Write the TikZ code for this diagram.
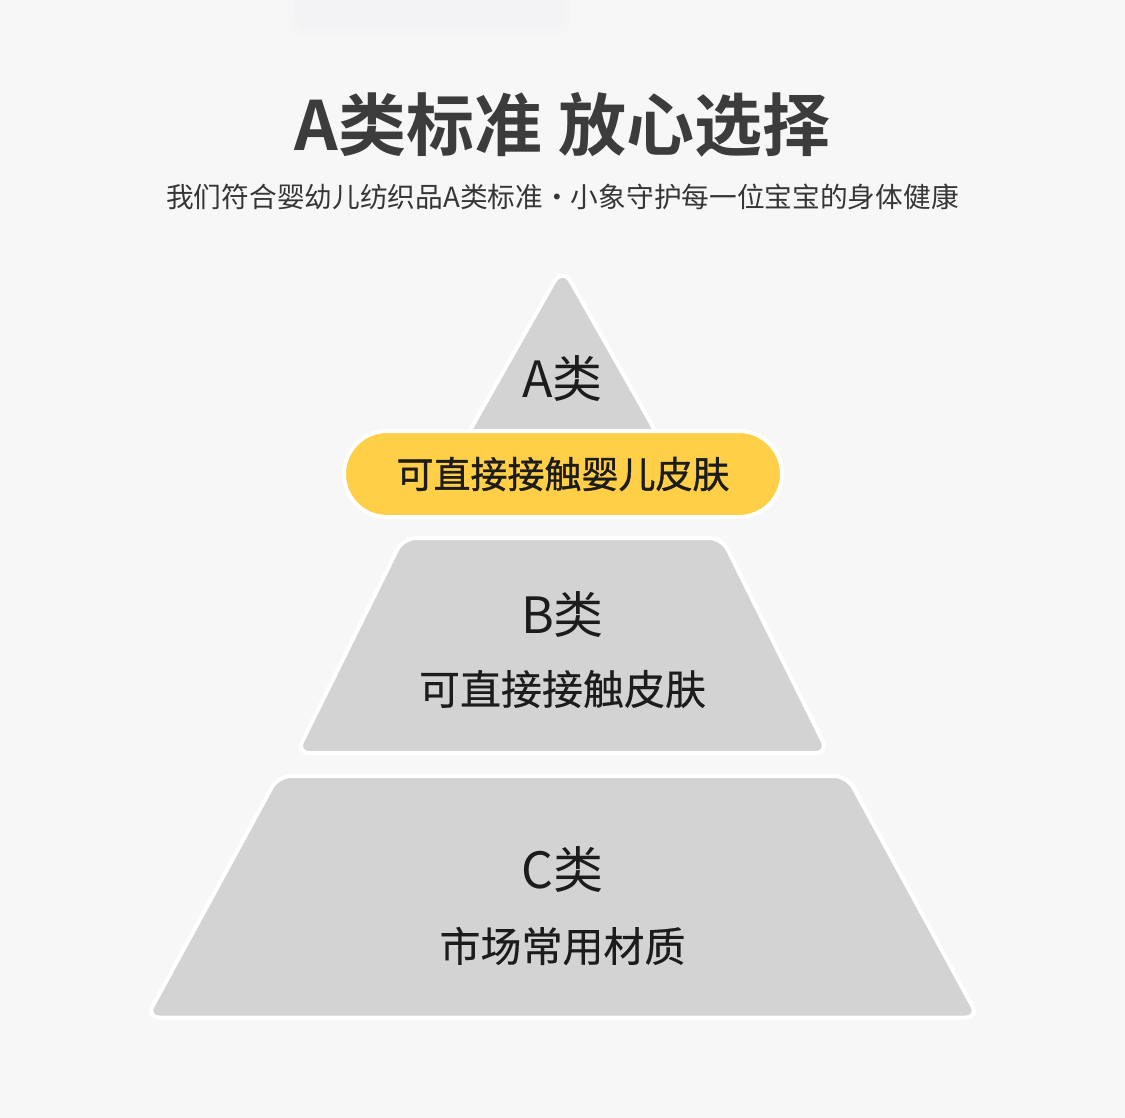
\documentclass[tikz,border=0pt]{standalone}
\usepackage{fontspec}
\setmainfont{Noto Sans CJK SC}[BoldFont={Noto Sans CJK SC Bold}]
\usepackage{xcolor}
\usetikzlibrary{shapes.misc}
\definecolor{bggray}{HTML}{F7F7F7}
\definecolor{topshade}{HTML}{F3F3F5}
\definecolor{tiergray}{HTML}{D3D3D3}
\definecolor{pillyellow}{HTML}{FFCF48}
\definecolor{titlegray}{HTML}{3C3C3C}
\definecolor{subgray}{HTML}{363636}
\definecolor{labelblack}{HTML}{1C1C1C}

\begin{document}
\begin{tikzpicture}[x=1pt,y=-1pt,
  tier/.style={fill=tiergray, draw=white, line width=4pt, rounded corners=13pt, line join=round},
  grade/.style={inner sep=0pt, text=labelblack, font=\fontsize{50}{50}\selectfont},
  usage/.style={inner sep=0pt, text=labelblack, font=\fontsize{41}{41}\selectfont\addfontfeature{FakeBold=0.4}}]
\def\W{1125}
\def\H{1118}
\def\cx{562.5}

%background
\fill[bggray] (0,0) rectangle (\W,\H);
\useasboundingbox (0,0) rectangle (\W,\H);
\fill[topshade!60!bggray, rounded corners=16pt] (288,-14) rectangle (569,36);
\fill[topshade, rounded corners=14pt] (294,-14) rectangle (563,30);

%headline
\node[inner sep=0pt, text=titlegray, font=\bfseries\fontsize{68}{68}\selectfont] (title) at (\cx,125) {A类标准 放心选择};
\node[inner sep=0pt, text=subgray, font=\fontsize{27.7}{28}\selectfont] (subtitle) at (\cx,197) {我们符合婴幼儿纺织品A类标准・小象守护每一位宝宝的身体健康};

%pyramid
%top tier
\draw[tier, rounded corners=17pt] (\cx,267) -- ({\cx+98},440) -- ({\cx-98},440) -- cycle;
%bottom tier
\draw[tier] ({\cx-284.5},776) -- ({\cx+284.5},776) -- ({\cx+416},1017.5) -- ({\cx-416},1017.5) -- cycle;
%middle tier
\draw[tier] ({\cx-159.5},538) -- ({\cx+159.5},538) -- ({\cx+266},753) -- ({\cx-266},753) -- cycle;

%yellow band over the top tier
\node[usage, rounded rectangle, fill=pillyellow, draw=white, line width=4pt,
  minimum width=438pt, minimum height=86pt,
  font=\fontsize{37}{37}\selectfont\addfontfeature{FakeBold=1}] (pill) at (563,474) {可直接接触婴儿皮肤};

%labels
\node[grade] (gradeA) at (\cx,379) {A类};
\node[grade] (gradeB) at (\cx,615) {B类};
\node[usage] (useB) at (\cx,689) {可直接接触皮肤};
\node[grade] (gradeC) at (\cx,870) {C类};
\node[usage] (useC) at (\cx,946) {市场常用材质};
\end{tikzpicture}
\end{document}
